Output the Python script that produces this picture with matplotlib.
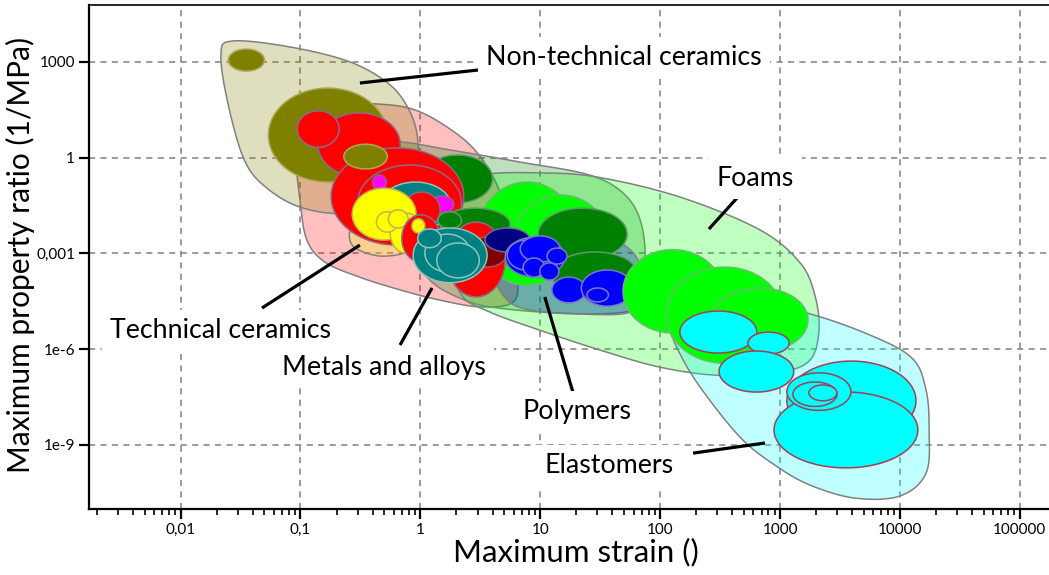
import numpy as np
import matplotlib
matplotlib.use("Agg")
import matplotlib.pyplot as plt
from matplotlib.patches import Polygon
from matplotlib.ticker import FixedLocator, LogLocator, NullLocator

plt.rcParams['font.family'] = ['Lato', 'DejaVu Sans']

# --- bubbles: material families, ranges of strain and property ratio --------
bubble_color = ['olive', 'olive', 'darkgreen', 'lime', 'lime', 'darkgreen',
                'red', 'red', 'red', 'red', 'olive', 'magenta', 'teal', 'magenta',
                'red', 'yellow', 'yellow', 'yellow', 'yellow', 'red', 'yellow',
                'darkgreen', 'darkgreen', 'red', 'maroon', 'maroon',
                'teal', 'teal', 'teal', 'teal', 'navy', 'darkgreen',
                'blue', 'blue', 'blue', 'blue', 'blue', 'blue', 'blue', 'blue', 'blue',
                'lime', 'lime', 'lime',
                'cyan', 'cyan', 'cyan', 'cyan', 'cyan', 'cyan', 'cyan', 'cyan']
strain_min = [0.025, 0.054, 1.05, 3.0, 6.2, 9.6,
              0.14, 0.094, 0.18, 0.30, 0.23, 0.40, 0.46, 1.2,
              0.72, 0.27, 0.56, 0.43, 0.54, 0.70, 0.85,
              1.46, 1.40, 1.67, 1.94, 2.45,
              0.87, 1.09, 0.95, 1.37, 3.46, 12.5,
              5.1, 5.3, 6.8, 11.4, 7.2, 9.9, 12.5, 22, 24.5,
              49, 112, 270,
              1140, 890, 1140, 1280, 1740, 146, 540, 310]
strain_max = [0.050, 0.53, 4.0, 20, 35, 53,
              0.68, 0.21, 2.3, 2.2, 0.53, 0.52, 1.8, 1.9,
              1.46, 0.92, 1.05, 0.65, 0.79, 1.46, 1.09,
              5.6, 2.2, 5.1, 4.0, 5.3,
              3.6, 2.6, 1.49, 3.1, 8.2, 65,
              16, 10.9, 14.6, 16.7, 10.9, 14.3, 24, 59, 37,
              330, 1060, 1710,
              13600, 14100, 3900, 2980, 2980, 640, 1190, 1300]
ratio_min = [510, 0.17, 0.038, 1.0e-4, 2.1e-4, 6.2e-4,
             0.25, 2.1, 0.0018, 0.0026, 0.44, 0.096, 0.0054, 0.018,
             0.0062, 0.0026, 0.0010, 0.0046, 0.0062, 0.00053, 0.0043,
             0.0026, 0.0058, 4.3e-5, 4.3e-4, 3.7e-4,
             1.2e-4, 2.6e-4, 0.0015, 1.7e-4, 0.0011, 4.3e-5,
             1.8e-4, 3.0e-4, 5.3e-4, 4.6e-4, 1.8e-4, 1.45e-4, 2.8e-5, 2.2e-5, 3.0e-5,
             3.2e-6, 3.6e-7, 8.1e-7,
             1.4e-9, 1.9e-10, 1.2e-8, 1.6e-8, 2.4e-8, 7.5e-7, 7.0e-7, 4.5e-8]
ratio_max = [2500, 150, 1.2, 0.17, 0.067, 0.026,
             25, 29, 2.0, 0.58, 2.6, 0.28, 0.17, 0.062,
             0.083, 0.11, 0.018, 0.020, 0.023, 0.016, 0.012,
             0.026, 0.020, 0.0095, 0.0030, 0.0032,
             0.0062, 0.0040, 0.0058, 0.0021, 0.0062, 0.0011,
             0.0032, 0.0026, 0.0035, 0.00146, 7.1e-4, 5.0e-4, 1.8e-4, 3.0e-4, 8.2e-5,
             0.0013, 3.7e-4, 8.2e-5,
             4.2e-7, 4.5e-8, 1.8e-7, 9.3e-8, 7.5e-8, 1.55e-5, 3.4e-6, 8.7e-7]

# --- family envelopes (outline points, strain / ratio) ----------------------
env_red_strain = [0.092, 0.176, 0.46, 0.90, 1.67, 2.85, 4.35, 5.6, 6.5, 5.8,
                  3.14, 1.46, 0.68, 0.31, 0.16, 0.113, 0.099, 0.090]
env_red_ratio = [24.8, 47, 47, 31, 9.0, 1.7, 0.14, 0.0054, 1.45e-4, 2.8e-5,
                 2.1e-5, 3.4e-5, 7.1e-5, 1.8e-4, 5.3e-4, 0.0026, 0.047, 1.7]
env_olive_strain = [0.027, 0.082, 0.26, 0.56, 0.82, 0.95, 0.90, 0.56, 0.235,
                    0.099, 0.051, 0.034, 0.025, 0.0217]
env_olive_ratio = [4460, 2900, 980, 187, 26.6, 3.5, 0.41, 0.047, 0.018,
                   0.028, 0.12, 0.84, 44, 1630]
env_yellow_strain = [0.285, 0.61, 0.82, 0.46, 0.27]
env_yellow_ratio = [0.0077, 0.0054, 0.0013, 8.2e-4, 0.0018]
env_dgreen_strain = [0.64, 1.77, 6.8, 26, 51, 70, 75, 65, 42, 14.6, 4.6, 2.35,
                     1.2, 0.74, 0.61, 0.59]
env_dgreen_ratio = [3.06, 1.72, 0.72, 0.28, 0.067, 0.0077, 3.0e-4, 2.4e-5,
                    1.34e-5, 1.34e-5, 1.9e-5, 3.4e-5, 1.45e-4, 0.0026, 0.096, 1.2]
env_foam_strain = [2.6, 3.6, 9.9, 29.7, 146, 680, 1470, 1950, 2110, 1775, 998,
                   315, 100, 31.5, 9.9, 3.8, 2.2, 1.94, 2.14]
env_foam_ratio = [0.14, 0.30, 0.33, 0.245, 0.058, 0.0054, 5.0e-4, 4.9e-5,
                  3.9e-6, 4.5e-7, 1.9e-7, 1.5e-7, 2.7e-7, 9.3e-7, 3.9e-6,
                  1.44e-5, 4.9e-5, 6.2e-4, 0.023]
env_blue_strain = [4.19, 9.9, 31.5, 61.6, 70.5, 56, 21.4, 8.2, 5.1, 3.8]
env_blue_ratio = [0.0046, 0.0071, 0.0040, 8.8e-4, 7.1e-5, 1.44e-5, 1.25e-5,
                  1.67e-5, 4.0e-5, 4.3e-4]
env_cyan_strain = [116, 463, 1680, 5620, 12600, 16500, 17500, 16500, 10000,
                   4210, 1775, 907, 463, 215, 141, 114]
env_cyan_ratio = [3.4e-5, 3.4e-5, 1.34e-5, 2.75e-6, 5.2e-7, 5.2e-8, 2.9e-9,
                  1.3e-10, 2.5e-11, 2.15e-11, 5.5e-11, 2.3e-10, 1.75e-9,
                  6.5e-8, 9.3e-7, 8.1e-6]

# --- labels -----------------------------------------------------------------
label_text = ['Non-technical ceramics', 'Foams', 'Technical ceramics',
              'Metals and alloys', 'Polymers', 'Elastomers']
label_x = [3.52, 618, 0.0217, 0.497, 20.2, 37.4]
label_y = [1400, 0.228, 3.9e-6, 2.7e-7, 1.14e-8, 2.3e-10]
label_ha = ['left', 'center', 'center', 'center', 'center', 'center']
leader_x = [(0.313, 3.02), (255, 437), (0.0477, 0.313), (0.676, 1.25),
            (18.7, 10.9), (188, 748)]
leader_y = [(216, 551), (0.00575, 0.0539), (1.93e-5, 0.00181), (1.34e-6, 8.2e-5),
            (4.5e-8, 4.3e-5), (5.5e-10, 1.14e-9)]

x_ticks = [0.01, 0.1, 1, 10, 100, 1000, 10000, 100000]
x_ticklabels = ['0,01', '0,1', '1', '10', '100', '1000', '10000', '100000']
y_ticks = [1e3, 1, 1e-3, 1e-6, 1e-9]
y_ticklabels = ['1000', '1', '0,001', '1e-6', '1e-9']

fill = {'olive': '#808000', 'red': '#ff0000', 'darkgreen': '#008000',
        'lime': '#00ff00', 'teal': '#008080', 'yellow': '#ffff00',
        'magenta': '#ff00ff', 'maroon': '#800000', 'navy': '#000080',
        'blue': '#0000ff', 'cyan': '#00ffff'}
edge = {'olive': '#aaaa55', 'red': '#8a6a8a', 'darkgreen': '#5f9a6a',
        'lime': '#72b872', 'teal': '#8cc4c4', 'yellow': '#c4b44c',
        'magenta': '#9a5aa0', 'maroon': '#a05a5a', 'navy': '#6a6aa6',
        'blue': '#7a7ac4', 'cyan': '#a04058'}


def ellipse_pts(x0, x1, y0, y1, n=120):
    """Ellipse spanning the ranges, drawn in log-log space."""
    lx0, lx1, ly0, ly1 = np.log10([x0, x1, y0, y1])
    t = np.linspace(0, 2 * np.pi, n)
    cx, cy = (lx0 + lx1) / 2, (ly0 + ly1) / 2
    rx, ry = (lx1 - lx0) / 2, (ly1 - ly0) / 2
    return np.column_stack([10 ** (cx + rx * np.cos(t)), 10 ** (cy + ry * np.sin(t))])


def smooth_closed(xs, ys, n=24):
    """Closed Catmull-Rom curve through the outline points (log space)."""
    P = np.column_stack([np.log10(xs), np.log10(ys)])
    N = len(P)
    t = np.linspace(0, 1, n, endpoint=False)[:, None]
    segs = []
    for i in range(N):
        p0, p1, p2, p3 = P[i - 1], P[i], P[(i + 1) % N], P[(i + 2) % N]
        segs.append(0.5 * (2 * p1 + (-p0 + p2) * t
                           + (2 * p0 - 5 * p1 + 4 * p2 - p3) * t ** 2
                           + (-p0 + 3 * p1 - 3 * p2 + p3) * t ** 3))
    return 10 ** np.vstack(segs)


fig = plt.figure(figsize=(10.49, 5.75), dpi=100)
ax = fig.add_axes([89 / 1049, 66 / 575, 960 / 1049, 504 / 575])
ax.set_xscale('log')
ax.set_yscale('log')
ax.set_xlim(10 ** -2.764, 10 ** 5.243)
ax.set_ylim(10 ** -11.01, 10 ** 4.778)

envelopes = [(env_red_strain, env_red_ratio, 'red'),
             (env_olive_strain, env_olive_ratio, 'olive'),
             (env_yellow_strain, env_yellow_ratio, 'yellow'),
             (env_dgreen_strain, env_dgreen_ratio, 'darkgreen'),
             (env_foam_strain, env_foam_ratio, 'lime'),
             (env_blue_strain, env_blue_ratio, 'blue'),
             (env_cyan_strain, env_cyan_ratio, 'cyan')]
for xs, ys, c in envelopes:
    rgba = matplotlib.colors.to_rgba(fill[c], 0.25)
    ax.add_patch(Polygon(smooth_closed(xs, ys), closed=True, fc=rgba,
                         ec='#808080', lw=1.1, zorder=2))

for i, c in enumerate(bubble_color):
    pts = ellipse_pts(strain_min[i], strain_max[i], ratio_min[i], ratio_max[i])
    ax.add_patch(Polygon(pts, closed=True, fc=fill[c], ec=edge[c], lw=1.1,
                         zorder=3))

for (x0, x1), (y0, y1) in zip(leader_x, leader_y):
    ax.plot([x0, x1], [y0, y1], color='black', lw=2.3, zorder=5,
            solid_capstyle='butt')
for txt, x, y, ha in zip(label_text, label_x, label_y, label_ha):
    ax.text(x, y, txt, ha=ha, va='center', fontsize=19.3, zorder=6,
            bbox=dict(boxstyle='square,pad=0.3', fc='white', ec='none'))

ax.grid(True, which='major', color='#808080', ls=(0, (4, 3.5)), lw=1.1)
ax.set_axisbelow(True)
ax.xaxis.set_major_locator(FixedLocator(x_ticks))
ax.xaxis.set_minor_locator(LogLocator(base=10, subs=np.arange(2, 10)))
ax.set_xticklabels(x_ticklabels)
ax.yaxis.set_major_locator(FixedLocator(y_ticks))
ax.yaxis.set_minor_locator(NullLocator())
ax.set_yticklabels(y_ticklabels)
ax.tick_params(which='major', direction='out', length=7, width=1.6,
               labelsize=11, pad=3)
ax.tick_params(which='minor', direction='out', length=4.5, width=1.2)
for s in ['left', 'bottom']:
    ax.spines[s].set_linewidth(1.6)
ax.spines['top'].set_linewidth(1.2)
ax.spines['right'].set_visible(False)

ax.set_xlabel('Maximum strain ()', fontsize=22.5, va='center')
ax.xaxis.set_label_coords(0.507, -0.0853)
ax.set_ylabel('Maximum property ratio (1/MPa)', fontsize=21.5, va='center')
ax.yaxis.set_label_coords(-0.0718, 0.504)

fig.savefig('out.png', dpi=100)
